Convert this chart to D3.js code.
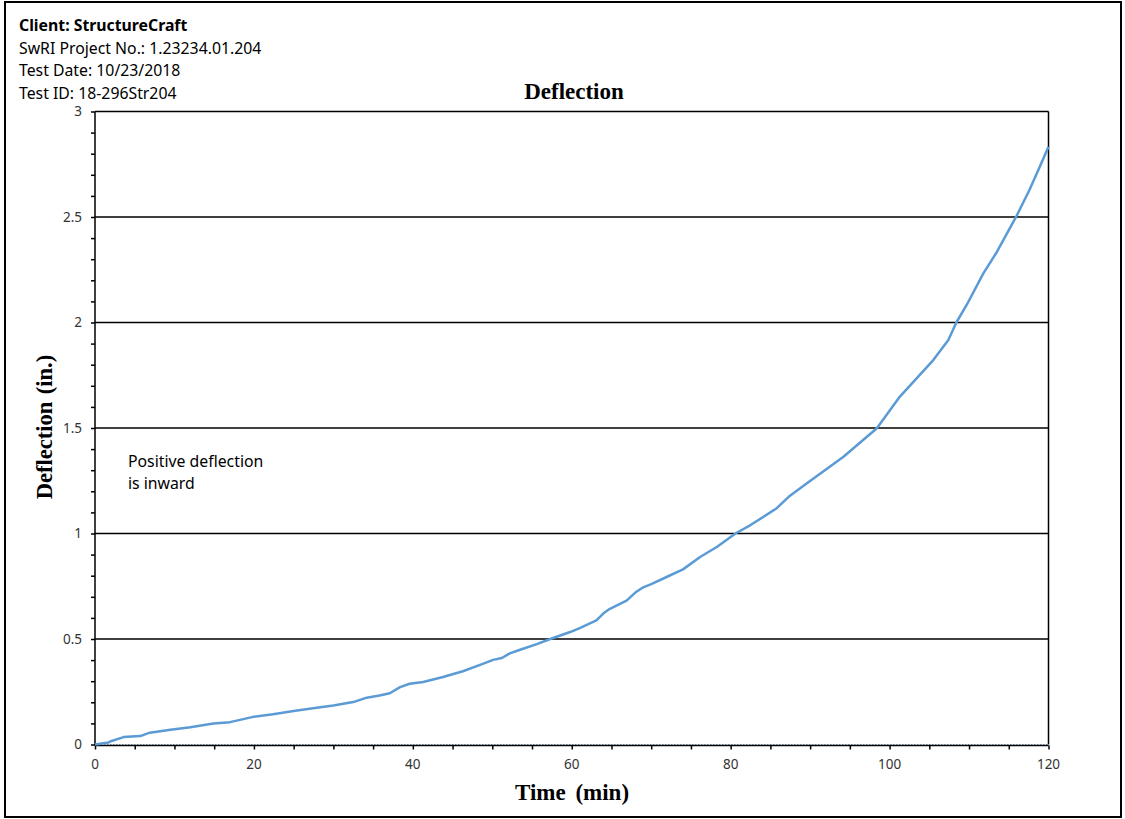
<!DOCTYPE html>
<html><head><meta charset="utf-8">
<script src="https://cdn.jsdelivr.net/npm/d3@7"></script>
<style>body{margin:0;background:#fff}svg{display:block}</style>
</head><body>
<script>
const headerLines = ["Client: StructureCraft","SwRI Project No.: 1.23234.01.204","Test Date: 10/23/2018","Test ID: 18-296Str204"];
const chartTitle = "Deflection";
const xTitle = "Time (min)";
const yTitle = "Deflection (in.)";
const noteLines = ["Positive deflection","is inward"];
const xTicks = [0,20,40,60,80,100,120];
const yTicks = [0,0.5,1,1.5,2,2.5,3];
const yTickLabels = ["0","0.5","1","1.5","2","2.5","3"];
const timeMin = [0,1.7,1.9,3.6,5.7,6.9,9.5,12,14.9,17,19.9,22.4,25,27.9,30,32.5,34.2,35.8,37.1,38.4,39.6,41.3,43.8,46.3,48.8,50.1,51.2,52.2,53.5,55.6,57.3,59.8,61,63.1,64,64.8,66.9,68,69,70,72,74,76.2,78.3,80.6,82.5,85.8,87.3,89.6,94.2,98.4,101.3,105.5,107.4,108.4,109.7,111.8,113.4,115.9,117.6,118.9,120];
const deflIn = [0,0.01,0.014,0.035,0.04,0.056,0.07,0.082,0.1,0.106,0.131,0.143,0.159,0.174,0.185,0.201,0.222,0.232,0.243,0.272,0.288,0.296,0.32,0.347,0.382,0.401,0.41,0.432,0.449,0.476,0.5,0.533,0.552,0.588,0.622,0.643,0.682,0.72,0.745,0.76,0.795,0.83,0.89,0.937,1.0,1.04,1.12,1.174,1.238,1.364,1.499,1.649,1.822,1.917,2.0,2.083,2.233,2.328,2.499,2.628,2.738,2.833];

const W=1125,H=819;
const svg=d3.select("body").append("svg").attr("width",W).attr("height",H);
svg.append("rect").attr("x",5).attr("y",2).attr("width",1116).attr("height",815).attr("fill","none").attr("stroke","#000").attr("stroke-width",2);

const sans="'Noto Sans', Lato, sans-serif";
const serif="'Liberation Serif','DejaVu Serif',serif";
headerLines.forEach((t,i)=>{
  svg.append("text").attr("x",19).attr("y",31+i*22.5).text(t)
    .attr("font-family",sans).attr("font-size",15.8).attr("font-weight",i===0?"bold":"normal").attr("fill","#000");
});

const x=d3.scaleLinear().domain([0,120]).range([95,1048.5]);
const y=d3.scaleLinear().domain([0,3]).range([744.5,111.5]);

svg.append("text").attr("x",574).attr("y",99).attr("text-anchor","middle").text(chartTitle)
  .attr("font-family",serif).attr("font-size",23).attr("font-weight","bold");

// gridlines
svg.append("g").selectAll("line").data(yTicks.filter(d=>d>0)).join("line")
  .attr("x1",x(0)).attr("x2",x(120)).attr("y1",d=>y(d)).attr("y2",d=>y(d))
  .attr("stroke","#000").attr("stroke-width",1.5);
// right border
svg.append("line").attr("x1",x(120)).attr("x2",x(120)).attr("y1",y(3)).attr("y2",y(0)).attr("stroke","#000").attr("stroke-width",1.5);
// zero dotted line
svg.append("line").attr("x1",x(0)).attr("x2",x(120)).attr("y1",y(0)).attr("y2",y(0))
  .attr("stroke","#7f9fbf").attr("stroke-width",1).attr("stroke-dasharray","1.5,1.5");

// axes
const xMinor=d3.range(0,121,5), yMinor=d3.range(0,30.5,1).map(d=>d/10);
const gx=svg.append("g").attr("transform",`translate(0,${y(0)+1})`);
gx.call(d3.axisBottom(x).tickValues(xMinor).tickSize(4).tickFormat(""));
gx.select(".domain").attr("stroke-width",1.5).attr("d",`M${x(0)},0H${x(120)}`);
gx.selectAll(".tick line").attr("stroke-width",1.5);
svg.append("g").selectAll("text").data(xTicks).join("text")
  .attr("x",d=>x(d)).attr("y",769).attr("text-anchor","middle").text(d=>d)
  .attr("font-family",sans).attr("font-size",13.5).attr("fill","#333");

const gy=svg.append("g").attr("transform",`translate(${x(0)},0)`);
gy.call(d3.axisLeft(y).tickValues(yMinor).tickSize(4).tickFormat(""));
gy.select(".domain").attr("stroke-width",1.5).attr("d",`M0,${y(3)}V${y(0)+1}`);
gy.selectAll(".tick line").attr("stroke-width",1.5);
svg.append("g").selectAll("text").data(yTicks).join("text")
  .attr("x",82).attr("y",d=>y(d)+4.5).attr("text-anchor","end").text((d,i)=>yTickLabels[i])
  .attr("font-family",sans).attr("font-size",13.5).attr("fill","#333");

svg.append("text").attr("x",572).attr("y",800).attr("text-anchor","middle").text(xTitle)
  .attr("font-family",serif).attr("font-size",23).attr("font-weight","bold").attr("word-spacing",4);
svg.append("text").attr("transform","translate(52,427) rotate(-90)").attr("text-anchor","middle").text(yTitle)
  .attr("font-family",serif).attr("font-size",22.5).attr("font-weight","bold").attr("word-spacing",2);

noteLines.forEach((t,i)=>svg.append("text").attr("x",128).attr("y",467+i*22).text(t)
  .attr("font-family",sans).attr("font-size",15.8));

const data=timeMin.map((t,i)=>[t,deflIn[i]]);
svg.append("path").datum(data).attr("fill","none").attr("stroke","#5B9BD5").attr("stroke-width",2.5)
  .attr("stroke-linejoin","round")
  .attr("d",d3.line().x(d=>x(d[0])).y(d=>y(d[1])));
</script>
</body></html>
